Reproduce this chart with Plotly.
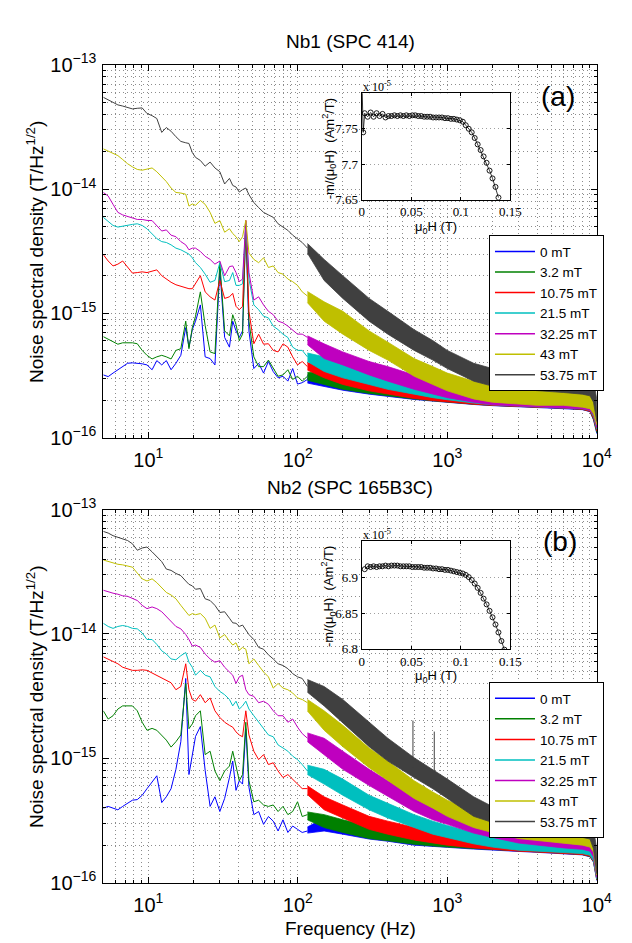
import math
import plotly.graph_objects as go

FONT = "Arial, Liberation Sans, sans-serif"
SERIF = "Times New Roman, Liberation Serif, serif"

labels = ["0 mT", "3.2 mT", "10.75 mT", "21.5 mT", "32.25 mT", "43 mT", "53.75 mT"]
colors = ["#0000ff", "#008000", "#ff0000", "#00bfbf", "#bf00bf", "#bfbf00", "#404040"]

# ---- axis ticks ----
x_tickvals = [10, 100, 1000, 10000]
x_ticktext = ["10<sup>1</sup>", "10<sup>2</sup>", "10<sup>3</sup>", "10<sup>4</sup>"]
y_tickvals = [1e-16, 1e-15, 1e-14, 1e-13]
y_ticktext = ["10<sup>−16</sup>", "10<sup>−15</sup>", "10<sup>−14</sup>", "10<sup>−13</sup>"]

# ---- frequency grids (Hz) ----
f_low = [5.00, 5.39, 5.81, 6.26, 6.74, 7.27, 7.83, 8.44, 9.10, 9.80, 10.6, 11.4, 12.3, 13.2,
         14.2, 15.3, 16.5, 17.8, 18.7, 19.7, 20.7, 22.3, 24.0, 25.9, 27.9, 30.1, 32.4, 34.9,
         36.7, 38.6, 40.6, 42.7, 44.9, 47.1, 50.8, 54.7, 59.0, 63.6, 68.5, 73.8, 79.6, 85.8,
         92.4, 99.6, 107, 116]
f_band = [116, 150, 200, 300, 400, 600, 800, 1000, 1500, 2000, 3000, 4000, 6000, 8000,
          9000, 9500, 10000]

# ---- panel (a) Nb1, noise density in fT/Hz^1/2, low-frequency traces ----
a_line_0 = [0.32, 0.31, 0.331, 0.352, 0.373, 0.397, 0.40, 0.397, 0.393, 0.385, 0.352, 0.417, 0.385,
            0.417, 0.352, 0.397, 0.46, 0.768, 0.535, 0.74, 0.866, 1.17, 0.447, 0.433, 0.385, 2.27,
            0.641, 0.535, 0.866, 0.723, 0.641, 0.723, 5.26, 0.723, 0.36, 0.397, 0.331, 0.41, 0.34,
            0.303, 0.312, 0.285, 0.36, 0.27, 0.277, 0.294]
a_line_3_2 = [0.65, 0.62, 0.59, 0.565, 0.58, 0.58, 0.58, 0.57, 0.504, 0.46, 0.43, 0.447, 0.46,
              0.447, 0.43, 0.504, 0.52, 0.866, 0.52, 0.768, 0.95, 1.49, 0.80, 0.49, 0.475, 2.56,
              0.723, 0.66, 0.976, 0.815, 0.604, 0.68, 4.95, 0.866, 0.447, 0.373, 0.373, 0.421,
              0.36, 0.312, 0.32, 0.352, 0.294, 0.312, 0.285, 0.312]
a_line_10_75 = [2.97, 2.64, 2.41, 2.49, 2.64, 2.34, 2.11, 2.13, 2.16, 2.13, 2.20, 2.24, 2.01, 1.89,
                1.78, 1.7, 1.66, 1.6, 1.58, 1.58, 1.73, 2.01, 1.49, 1.36, 1.28, 1.84, 1.32, 1.36,
                1.45, 1.14, 1.07, 1.14, 5.58, 1.04, 0.57, 0.68, 0.565, 0.57, 0.504, 0.49, 0.569,
                0.535, 0.447, 0.385, 0.41, 0.373]
a_line_21_5 = [5.93, 5.5, 5.1, 4.95, 5.05, 5.1, 5.2, 5.26, 5.1, 4.8, 4.39, 4.0, 3.78, 3.72, 3.56,
               3.35, 3.25, 3.1, 3.0, 2.8, 2.56, 2.34, 2.07, 1.78, 1.84, 2.56, 1.80, 1.84, 2.13,
               1.68, 1.68, 1.73, 5.26, 1.89, 1.17, 1.07, 0.95, 0.92, 0.79, 0.74, 0.68, 0.64,
               0.535, 0.504, 0.504, 0.447]
a_line_32_25 = [9.4, 8.8, 7.54, 6.5, 6.2, 6.0, 5.82, 5.7, 5.7, 5.6, 5.58, 5.1, 4.6, 4.7, 4.26,
                4.14, 3.78, 3.56, 3.25, 3.35, 3.35, 3.15, 2.88, 2.72, 2.49, 2.64, 2.01, 2.38, 2.41,
                2.13, 1.8, 1.89, 5.58, 2.13, 1.28, 1.36, 1.17, 1.04, 0.976, 0.866, 0.84, 0.79,
                0.74, 0.681, 0.681, 0.641]
a_line_43 = [21.1, 20.3, 19.5, 18.6, 17.3, 16.0, 15.1, 14.4, 14.2, 14.4, 14.8, 13.8, 12.6, 11.5,
             10.2, 9.4, 9.3, 9.1, 7.3, 7.6, 7.4, 8.1, 7.54, 6.5, 5.3, 5.58, 4.5, 4.8, 4.39, 4.14,
             3.78, 4.14, 5.6, 3.06, 2.72, 2.56, 2.8, 2.34, 2.41, 2.13, 2.07, 1.89, 1.80, 1.68,
             1.49, 1.38]
a_line_53_75 = [54.8, 52.2, 49.2, 47.6, 46.6, 45.3, 44.2, 44.7, 45.0, 40.6, 39.0, 37.0, 28.6, 31.3,
                29.2, 26.4, 24.2, 23.6, 23.3, 19.7, 18.0, 17.0, 15.3, 16.5, 14.8, 13.8, 11.0, 12.2,
                10.7, 10.4, 9.47, 9.9, 10.2, 9.03, 7.8, 7.1, 6.5, 6.2, 5.93, 5.26, 4.95, 4.66, 4.26,
                4.0, 3.72, 3.35]

# ---- panel (a) high-frequency noise band envelopes (fT/Hz^1/2) ----
a_hi_0 = [0.32, 0.331, 0.308, 0.283, 0.27, 0.25, 0.243, 0.236, 0.226, 0.222, 0.218, 0.215, 0.212, 0.212, 0.206, 0.182, 0.146]
a_lo_0 = [0.275, 0.26, 0.241, 0.224, 0.214, 0.203, 0.197, 0.191, 0.185, 0.181, 0.177, 0.174, 0.171, 0.168, 0.162, 0.139, 0.108]
a_hi_3_2 = [0.335, 0.341, 0.312, 0.285, 0.274, 0.253, 0.245, 0.238, 0.228, 0.224, 0.219, 0.217, 0.214, 0.214, 0.208, 0.184, 0.148]
a_lo_3_2 = [0.29, 0.268, 0.245, 0.227, 0.217, 0.205, 0.198, 0.193, 0.186, 0.182, 0.178, 0.176, 0.173, 0.169, 0.163, 0.141, 0.11]
a_hi_10_75 = [0.40, 0.385, 0.341, 0.303, 0.285, 0.26, 0.248, 0.24, 0.231, 0.224, 0.219, 0.219, 0.217, 0.217, 0.21, 0.187, 0.152]
a_lo_10_75 = [0.35, 0.303, 0.268, 0.238, 0.224, 0.207, 0.199, 0.193, 0.186, 0.182, 0.178, 0.176, 0.173, 0.169, 0.163, 0.143, 0.113]
a_hi_21_5 = [0.48, 0.447, 0.397, 0.341, 0.32, 0.285, 0.268, 0.253, 0.238, 0.228, 0.224, 0.22, 0.219, 0.219, 0.214, 0.193, 0.157]
a_lo_21_5 = [0.41, 0.341, 0.303, 0.268, 0.245, 0.224, 0.21, 0.202, 0.19, 0.184, 0.18, 0.176, 0.173, 0.171, 0.166, 0.148, 0.117]
a_hi_32_25 = [0.66, 0.569, 0.49, 0.41, 0.373, 0.32, 0.294, 0.268, 0.245, 0.231, 0.224, 0.224, 0.224, 0.224, 0.217, 0.197, 0.161]
a_lo_32_25 = [0.56, 0.433, 0.385, 0.32, 0.285, 0.245, 0.224, 0.21, 0.193, 0.184, 0.18, 0.176, 0.173, 0.171, 0.166, 0.152, 0.12]
a_hi_43 = [1.50, 1.24, 1.04, 0.723, 0.587, 0.433, 0.373, 0.331, 0.285, 0.26, 0.245, 0.238, 0.238, 0.238, 0.231, 0.21, 0.171]
a_lo_43 = [1.22, 0.866, 0.681, 0.504, 0.421, 0.312, 0.268, 0.238, 0.205, 0.193, 0.187, 0.182, 0.182, 0.176, 0.171, 0.156, 0.127]
a_hi_53_75 = [3.65, 2.72, 2.01, 1.32, 1.04, 0.74, 0.604, 0.504, 0.397, 0.36, 0.34, 0.331, 0.32, 0.32, 0.312, 0.285, 0.205]
a_lo_53_75 = [3.05, 1.84, 1.32, 0.866, 0.681, 0.504, 0.421, 0.36, 0.285, 0.26, 0.245, 0.238, 0.231, 0.224, 0.217, 0.193, 0.135]

# ---- panel (b) Nb2, low-frequency traces ----
b_line_0 = [0.397, 0.41, 0.397, 0.385, 0.41, 0.434, 0.46, 0.465, 0.504, 0.569, 0.641, 0.723, 0.44,
            0.49, 0.569, 0.815, 1.36, 4.39, 0.74, 1.05, 1.5, 1.8, 0.8, 0.41, 0.49, 0.373, 0.475,
            0.70, 0.95, 0.552, 0.66, 0.62, 1.73, 0.586, 0.352, 0.373, 0.294, 0.34, 0.312, 0.26,
            0.32, 0.253, 0.285, 0.268, 0.253, 0.26]
b_line_3_2 = [2.41, 2.07, 2.2, 2.49, 2.64, 2.64, 2.64, 2.41, 1.95, 1.68, 1.74, 1.68, 1.54, 1.40,
              1.23, 1.36, 1.54, 4.0, 1.73, 1.89, 2.2, 2.41, 1.07, 1.14, 0.79, 0.66, 0.79, 0.866,
              1.14, 0.89, 0.66, 0.74, 1.95, 0.66, 0.447, 0.46, 0.421, 0.41, 0.421, 0.373, 0.41,
              0.352, 0.373, 0.447, 0.34, 0.352]
b_line_10_75 = [6.55, 6.3, 6.05, 5.76, 5.4, 5.26, 5.1, 5.1, 5.15, 5.1, 4.85, 4.66, 4.47, 4.26,
                4.05, 3.56, 3.78, 5.76, 3.56, 2.97, 2.88, 3.25, 2.8, 3.06, 2.41, 2.13, 1.95, 1.84,
                1.78, 1.63, 1.54, 1.49, 2.41, 1.54, 1.14, 0.976, 1.07, 0.89, 0.92, 0.79, 0.70,
                0.74, 0.68, 0.62, 0.57, 0.57]
b_line_21_5 = [12.2, 11.5, 11.1, 11.5, 11.7, 11.5, 11.1, 11.0, 10.2, 9.03, 9.03, 8.25, 7.32, 6.9,
               6.3, 6.2, 6.69, 7.1, 5.93, 5.4, 4.66, 5.1, 4.66, 4.52, 3.78, 3.45, 3.25, 2.97,
               2.64, 2.88, 2.49, 2.64, 2.88, 2.49, 2.2, 1.95, 1.73, 1.54, 1.49, 1.28, 1.21, 1.14,
               1.04, 0.976, 0.89, 0.79]
b_line_32_25 = [22.5, 21.8, 21.3, 20.9, 20.3, 20.1, 19.4, 18.6, 17.0, 16.0, 16.5, 16.0, 15.1,
                13.8, 12.5, 11.5, 11.0, 9.9, 9.03, 8.0, 8.15, 7.8, 6.9, 6.3, 5.93, 6.1, 5.4, 4.95,
                4.66, 4.0, 4.52, 4.66, 3.56, 3.25, 3.15, 2.8, 2.88, 2.72, 2.41, 2.2, 2.2, 1.95,
                2.07, 1.78, 1.58, 1.45]
b_line_43 = [39.4, 38.2, 37.1, 36.4, 36.0, 35.3, 34.5, 30.9, 27.8, 26.7, 27.8, 25.9, 23.6, 21.6,
             20.6, 19.2, 17.0, 15.1, 14.1, 14.6, 14.3, 14.6, 13.4, 11.1, 11.8, 9.3, 9.9, 8.76,
             8.15, 8.5, 7.4, 7.8, 7.54, 5.76, 6.3, 5.58, 4.95, 4.52, 3.67, 4.0, 3.67, 3.56, 3.35,
             3.06, 2.97, 2.8]
b_line_53_75 = [66.9, 64.9, 61.8, 60.0, 59.0, 56.5, 53.2, 47.2, 49.2, 50.1, 45.8, 41.8, 38.2,
                33.3, 32.5, 30.7, 29.5, 26.7, 25.1, 24.4, 22.9, 23.2, 19.2, 18.6, 17.0, 14.9,
                15.1, 13.4, 12.3, 12.2, 11.5, 11.8, 10.8, 9.9, 9.03, 7.8, 7.54, 6.8, 6.3, 5.76,
                5.58, 5.26, 4.8, 4.52, 4.39, 3.78]

# ---- panel (b) high-frequency noise band envelopes ----
b_hi_0 = [0.28, 0.331, 0.312, 0.282, 0.265, 0.246, 0.237, 0.233, 0.225, 0.221, 0.216, 0.213, 0.211, 0.211, 0.205, 0.185, 0.143]
b_lo_0 = [0.25, 0.26, 0.245, 0.224, 0.215, 0.2, 0.196, 0.192, 0.186, 0.182, 0.178, 0.175, 0.171, 0.167, 0.161, 0.146, 0.104]
b_hi_3_2 = [0.37, 0.352, 0.32, 0.285, 0.268, 0.248, 0.238, 0.234, 0.226, 0.222, 0.217, 0.214, 0.212, 0.212, 0.206, 0.186, 0.144]
b_lo_3_2 = [0.32, 0.277, 0.253, 0.226, 0.217, 0.203, 0.197, 0.193, 0.187, 0.183, 0.179, 0.176, 0.172, 0.168, 0.162, 0.147, 0.105]
b_hi_10_75 = [0.60, 0.49, 0.421, 0.341, 0.312, 0.277, 0.257, 0.245, 0.231, 0.224, 0.217, 0.216, 0.214, 0.214, 0.207, 0.187, 0.146]
b_lo_10_75 = [0.51, 0.385, 0.331, 0.268, 0.245, 0.22, 0.208, 0.2, 0.19, 0.185, 0.179, 0.176, 0.172, 0.168, 0.163, 0.148, 0.106]
b_hi_21_5 = [0.88, 0.815, 0.68, 0.504, 0.434, 0.352, 0.312, 0.288, 0.253, 0.238, 0.224, 0.219, 0.217, 0.216, 0.21, 0.19, 0.148]
b_lo_21_5 = [0.74, 0.62, 0.504, 0.385, 0.331, 0.277, 0.245, 0.231, 0.205, 0.193, 0.182, 0.179, 0.175, 0.171, 0.166, 0.15, 0.107]
b_hi_32_25 = [1.60, 1.45, 1.14, 0.815, 0.66, 0.504, 0.421, 0.38, 0.32, 0.294, 0.26, 0.245, 0.235, 0.231, 0.226, 0.205, 0.157]
b_lo_32_25 = [1.36, 1.07, 0.815, 0.604, 0.49, 0.373, 0.32, 0.294, 0.25, 0.231, 0.208, 0.199, 0.19, 0.185, 0.179, 0.161, 0.11]
b_hi_43 = [2.97, 2.41, 1.84, 1.21, 0.95, 0.66, 0.535, 0.46, 0.373, 0.331, 0.294, 0.277, 0.26, 0.253, 0.245, 0.224, 0.166]
b_lo_43 = [2.40, 1.68, 1.24, 0.84, 0.66, 0.475, 0.397, 0.341, 0.277, 0.253, 0.226, 0.217, 0.208, 0.2, 0.193, 0.176, 0.115]
b_hi_53_75 = [4.30, 3.78, 2.97, 1.95, 1.45, 1.01, 0.815, 0.681, 0.49, 0.41, 0.352, 0.331, 0.312, 0.312, 0.303, 0.268, 0.187]
b_lo_53_75 = [3.40, 2.64, 1.95, 1.24, 0.95, 0.70, 0.569, 0.475, 0.341, 0.303, 0.26, 0.245, 0.238, 0.231, 0.224, 0.187, 0.118]

# narrow spectral lines on the 53.75 mT trace of panel (b)
b_spike_f = [589, 818]
b_spike_top = [2.01, 1.64]
b_spike_base = [0.85, 0.70]

# ---- insets: -m/(mu0 H) in units of 1e-5 Am^2/T vs mu0 H (T) ----
ia_field = [0.0, 0.0015, 0.003, 0.006, 0.009, 0.012, 0.015, 0.018, 0.021, 0.024, 0.027, 0.030,
            0.033, 0.036, 0.039, 0.042, 0.045, 0.048, 0.051, 0.054, 0.057, 0.060, 0.063, 0.066,
            0.069, 0.072, 0.075, 0.078, 0.081, 0.084, 0.087, 0.090, 0.093, 0.096, 0.099, 0.102,
            0.105, 0.108, 0.111, 0.114, 0.117, 0.120, 0.123, 0.126, 0.129, 0.132, 0.135, 0.138]
ia_m = [7.83, 7.745, 7.772, 7.767, 7.773, 7.767, 7.772, 7.768, 7.771, 7.766, 7.768, 7.768, 7.769,
        7.768, 7.769, 7.768, 7.769, 7.768, 7.769, 7.769, 7.768, 7.768, 7.767, 7.767, 7.767, 7.766,
        7.766, 7.766, 7.766, 7.765, 7.765, 7.764, 7.764, 7.763, 7.762, 7.760, 7.755, 7.750, 7.745,
        7.737, 7.728, 7.720, 7.711, 7.702, 7.691, 7.680, 7.668, 7.653]
ib_field = [0.003, 0.006, 0.009, 0.012, 0.015, 0.018, 0.021, 0.024, 0.027, 0.030, 0.033, 0.036,
            0.039, 0.042, 0.045, 0.048, 0.051, 0.054, 0.057, 0.060, 0.063, 0.066, 0.069, 0.072,
            0.075, 0.078, 0.081, 0.084, 0.087, 0.090, 0.093, 0.096, 0.099, 0.102, 0.105, 0.108,
            0.111, 0.114, 0.117, 0.120, 0.123, 0.126, 0.129, 0.132, 0.135, 0.138, 0.141, 0.144]
ib_m = [6.911, 6.915, 6.914, 6.915, 6.914, 6.915, 6.915, 6.916, 6.915, 6.916, 6.916, 6.916, 6.915,
        6.915, 6.915, 6.915, 6.914, 6.914, 6.914, 6.914, 6.913, 6.913, 6.913, 6.912, 6.912, 6.911,
        6.911, 6.910, 6.910, 6.909, 6.908, 6.907, 6.906, 6.905, 6.903, 6.900, 6.896, 6.891, 6.885,
        6.878, 6.870, 6.862, 6.853, 6.844, 6.834, 6.823, 6.811, 6.799]

A_lines = [a_line_0, a_line_3_2, a_line_10_75, a_line_21_5, a_line_32_25, a_line_43, a_line_53_75]
A_his = [a_hi_0, a_hi_3_2, a_hi_10_75, a_hi_21_5, a_hi_32_25, a_hi_43, a_hi_53_75]
A_los = [a_lo_0, a_lo_3_2, a_lo_10_75, a_lo_21_5, a_lo_32_25, a_lo_43, a_lo_53_75]
B_lines = [b_line_0, b_line_3_2, b_line_10_75, b_line_21_5, b_line_32_25, b_line_43, b_line_53_75]
B_his = [b_hi_0, b_hi_3_2, b_hi_10_75, b_hi_21_5, b_hi_32_25, b_hi_43, b_hi_53_75]
B_los = [b_lo_0, b_lo_3_2, b_lo_10_75, b_lo_21_5, b_lo_32_25, b_lo_43, b_lo_53_75]

FT = 1e-15  # data above are in fT/Hz^1/2


def sc(v):
    return [x * FT for x in v]


fig = go.Figure()

for panel, (lines, his, los, xa, ya, lg) in enumerate([
        (A_lines, A_his, A_los, "x", "y", "legend"),
        (B_lines, B_his, B_los, "x2", "y2", "legend2")]):
    for i in range(7):
        c = colors[i]
        fig.add_trace(go.Scatter(x=f_low, y=sc(lines[i]), mode="lines",
                                 line=dict(color=c, width=1), xaxis=xa, yaxis=ya,
                                 showlegend=False, hoverinfo="skip"))
        fig.add_trace(go.Scatter(x=f_band + f_band[::-1], y=sc(his[i]) + sc(los[i])[::-1],
                                 mode="lines", fill="toself", fillcolor=c,
                                 line=dict(color=c, width=0.8), xaxis=xa, yaxis=ya,
                                 showlegend=False, hoverinfo="skip"))
        if panel == 1 and i == 6:
            sx, sy = [], []
            for f, t, b in zip(b_spike_f, b_spike_top, b_spike_base):
                sx += [f, f, None]
                sy += [b * FT, t * FT, None]
            fig.add_trace(go.Scatter(x=sx, y=sy, mode="lines", line=dict(color=c, width=1),
                                     xaxis=xa, yaxis=ya, showlegend=False, hoverinfo="skip"))
    for i in range(7):
        fig.add_trace(go.Scatter(x=[None], y=[None], mode="lines", name=labels[i],
                                 line=dict(color=colors[i], width=1.5), xaxis=xa, yaxis=ya,
                                 legend=lg))

# insets
for fld, m, xa, ya in [(ia_field, ia_m, "x3", "y3"), (ib_field, ib_m, "x4", "y4")]:
    fig.add_trace(go.Scatter(x=fld, y=m, mode="lines+markers",
                             line=dict(color="black", width=0.8),
                             marker=dict(symbol="circle-open", size=5, color="black",
                                         line=dict(width=0.9)),
                             xaxis=xa, yaxis=ya, showlegend=False, hoverinfo="skip"))

W, H = 632, 943
GRID = "#8c8c8c"
DASH = "1px,3px"


def px_x(p):
    return p / W


def px_y(p):
    return 1 - p / H


main_common = dict(showline=True, linecolor="black", linewidth=1, mirror="allticks",
                   ticks="inside", ticklen=6, tickcolor="black", showgrid=True,
                   gridcolor=GRID, griddash=DASH, gridwidth=1, zeroline=False,
                   type="log", tickmode="array",
                   tickfont=dict(family=FONT, size=20, color="black"),
                   minor=dict(tickmode="linear", dtick="D1", ticks="inside", ticklen=3,
                              tickcolor="black", showgrid=True,
                              gridcolor=GRID, griddash=DASH, gridwidth=1))

xdom = [px_x(95), px_x(603)]
ya_dom = [px_y(427), px_y(44)]
yb_dom = [px_y(884), px_y(501)]
xr = [math.log10(5), 4]
yr = [-16, -13]

inset_common = dict(showline=True, linecolor="black", linewidth=1, mirror="allticks",
                    ticks="inside", ticklen=3, tickcolor="black", showgrid=True,
                    gridcolor="#a0a0a0", griddash=DASH, gridwidth=1, zeroline=False,
                    tickfont=dict(family=SERIF, size=13, color="black"))
ix_dom = [px_x(361), px_x(514)]

legend_style = dict(xanchor="left", yanchor="top", bgcolor="white", bordercolor="black",
                    borderwidth=1, font=dict(family=FONT, size=13.5, color="black"),
                    itemwidth=40, tracegroupgap=0)

fig.update_layout(
    width=W, height=H, margin=dict(l=0, r=0, t=0, b=0),
    paper_bgcolor="white", plot_bgcolor="white",
    font=dict(family=FONT, color="black"),
    xaxis=dict(domain=xdom, range=xr, anchor="y", tickvals=x_tickvals, ticktext=x_ticktext,
               ticklabelstandoff=4, **main_common),
    yaxis=dict(domain=ya_dom, range=yr, anchor="x", tickvals=y_tickvals, ticktext=y_ticktext,
               ticklabelstandoff=2, **main_common),
    xaxis2=dict(domain=xdom, range=xr, anchor="y2", tickvals=x_tickvals, ticktext=x_ticktext,
                ticklabelstandoff=4, **main_common),
    yaxis2=dict(domain=yb_dom, range=yr, anchor="x2", tickvals=y_tickvals, ticktext=y_ticktext,
                ticklabelstandoff=2, **main_common),
    xaxis3=dict(domain=ix_dom, range=[0, 0.15], anchor="y3",
                tickvals=[0, 0.05, 0.1, 0.15], ticktext=["0", "0.05", "0.1", "0.15"],
                **inset_common),
    yaxis3=dict(domain=[px_y(182.5), px_y(73.3)], range=[7.65, 7.8], anchor="x3",
                tickvals=[7.65, 7.7, 7.75], ticktext=["7.65", "7.7", "7.75"], **inset_common),
    xaxis4=dict(domain=ix_dom, range=[0, 0.15], anchor="y4",
                tickvals=[0, 0.05, 0.1, 0.15], ticktext=["0", "0.05", "0.1", "0.15"],
                **inset_common),
    yaxis4=dict(domain=[px_y(644), px_y(533.3)], range=[6.8, 6.95], anchor="x4",
                tickvals=[6.8, 6.85, 6.9], ticktext=["6.8", "6.85", "6.9"], **inset_common),
    legend=dict(x=px_x(492), y=px_y(219), **legend_style),
    legend2=dict(x=px_x(492), y=px_y(678), **legend_style),
)

ann = []


def add_text(text, x, y, size, family=FONT, angle=0, xanchor="center", yanchor="middle"):
    ann.append(dict(text=text, x=px_x(x), y=px_y(y), xref="paper", yref="paper",
                    showarrow=False, textangle=angle, xanchor=xanchor, yanchor=yanchor,
                    font=dict(family=family, size=size, color="black")))


add_text("Nb1 (SPC 414)", 349, 20, 19)
add_text("Nb2 (SPC 165B3C)", 349, 478, 19)
add_text("Frequency (Hz)", 349, 931, 19)
add_text("Noise spectral density (T/Hz<sup>1/2</sup>)", 24, 236, 19, angle=-90)
add_text("Noise spectral density (T/Hz<sup>1/2</sup>)", 24, 693, 19, angle=-90)
add_text("(a)", 563, 77, 28)
add_text("(b)", 565, 534, 28)
add_text("-m/(μ<sub>0</sub>H)  (Am<sup>2</sup>/T)", 327, 130, 13, angle=-90)
add_text("-m/(μ<sub>0</sub>H)  (Am<sup>2</sup>/T)", 327, 590, 13, angle=-90)
add_text("μ<sub>0</sub>H (T)", 437, 211, 13)
add_text("μ<sub>0</sub>H (T)", 437, 672, 13)
add_text("x 10<sup>-5</sup>", 360, 66, 12, family=SERIF, xanchor="left")
add_text("x 10<sup>-5</sup>", 360, 526, 12, family=SERIF, xanchor="left")
fig.update_layout(annotations=ann)

fig.write_html("out.html")
